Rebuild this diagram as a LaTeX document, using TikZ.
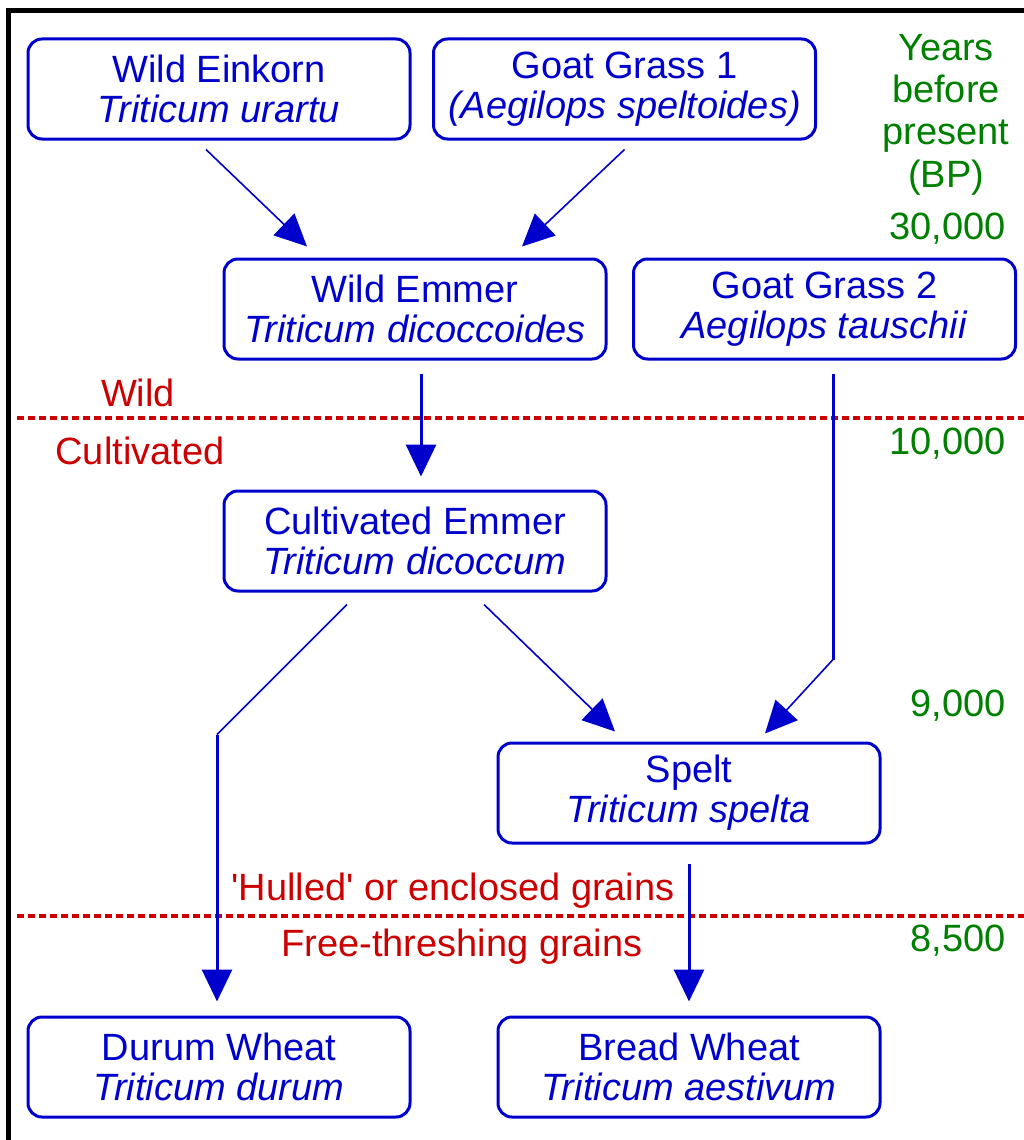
\documentclass[tikz,border=0pt]{standalone}
\usepackage{fontspec}
\setmainfont{Liberation Sans}[Ligatures=TeXOff]
\usetikzlibrary{arrows.meta,calc}
\definecolor{nblue}{RGB}{0,0,204}
\definecolor{nred}{RGB}{204,0,0}
\definecolor{ngreen}{RGB}{0,128,0}
\begin{document}
\begin{tikzpicture}[x=1pt,y=-1pt,
  box/.style={draw=nblue, line width=3pt, rounded corners=14pt, minimum width=382pt, minimum height=100pt,
    align=center, text=nblue, font=\fontsize{38}{40}\selectfont, inner sep=0pt, fill=white},
  thinline/.style={draw=nblue, line width=1.6pt},
  thickline/.style={draw=nblue, line width=3pt},
  tip/.style={-{Triangle[length=32pt,width=30pt]}},
  yearlbl/.style={text=ngreen, font=\fontsize{38}{42.3}\selectfont, inner sep=0pt},
  zonelbl/.style={text=nred, font=\fontsize{38}{42}\selectfont, inner sep=0pt},
  divider/.style={draw=nred, line width=3.5pt, dash pattern=on 7pt off 4pt}
]
\useasboundingbox (0,0) rectangle (1024,1140);
\fill[white] (0,0) rectangle (1024,1140);
% frame
\draw[black, line width=5pt] (8.5,1140) -- (8.5,10.5) -- (1024,10.5);
% dividers
\draw[divider] (17,418) -- (1024,418);
\draw[divider] (17,916) -- (1024,916);
% nodes
\node[box] (ein) at (219,89) {Wild Einkorn\\\textit{Triticum urartu}};
\node[box] (gg1) at (624.5,89) {Goat Grass 1\\\textit{(Aegilops speltoides)}};
\node[box] (wem) at (415,309) {Wild Emmer\\\textit{Triticum dicoccoides}};
\node[box] (gg2) at (824.5,309) {Goat Grass 2\\\textit{Aegilops tauschii}};
\node[box] (cem) at (415,541) {Cultivated Emmer\\\textit{Triticum dicoccum}};
\node[box] (spelt) at (689,793) {Spelt\\\textit{Triticum spelta}};
\node[box] (durum) at (219,1067) {Durum Wheat\\\textit{Triticum durum}};
\node[box] (bread) at (689,1067) {Bread Wheat\\\textit{Triticum aestivum}};
% labels
\node[yearlbl, align=center, anchor=north] (yrs) at (946,34) {Years\\before\\present\\(BP)};
\node[yearlbl, anchor=east] (y30) at (1006,229) {30,000};
\node[yearlbl, anchor=east] (y10) at (1006,444) {10,000};
\node[yearlbl, anchor=east] (y9) at (1006,706) {9,000};
\node[yearlbl, anchor=east] (y85) at (1006,941) {8,500};
\node[zonelbl] (wild) at (138,393) {Wild};
\node[zonelbl] (cult) at (140,451) {Cultivated};
\node[zonelbl] (hull) at (453,891) {'Hulled' or enclosed grains};
\node[zonelbl] (free) at (462,947) {Free-threshing grains};
% connectors
\draw[thinline,tip] ($(ein.south)+(-13,9)$) -- ($(wem.north)+(-108,-11)$);
\draw[thinline,tip] ($(gg1.south)+(0,9)$) -- ($(wem.north)+(107,-11)$);
\draw[thickline,tip] ($(wem.south)+(6,13)$) -- ($(cem.north)+(6,-13)$);
\coordinate (b1) at ($(gg2.south)+(8.5,299)$);
\draw[thickline] ($(gg2.south)+(8.5,13)$) -- (b1);
\draw[thinline,tip] (b1) -- ($(spelt.north)+(76,-8)$);
\draw[thinline,tip] ($(cem.south)+(69,12)$) -- ($(spelt.north)+(-74,-10)$);
\coordinate (b2) at ($(cem.south)+(-198,142)$);
\draw[thinline] ($(cem.south)+(-68,12)$) -- (b2);
\draw[thickline,tip] (b2) -- ($(durum.north)+(-2,-14)$);
\draw[thickline,tip] ($(spelt.south)+(0,19)$) -- ($(bread.north)+(0,-14)$);
\end{tikzpicture}
\end{document}
